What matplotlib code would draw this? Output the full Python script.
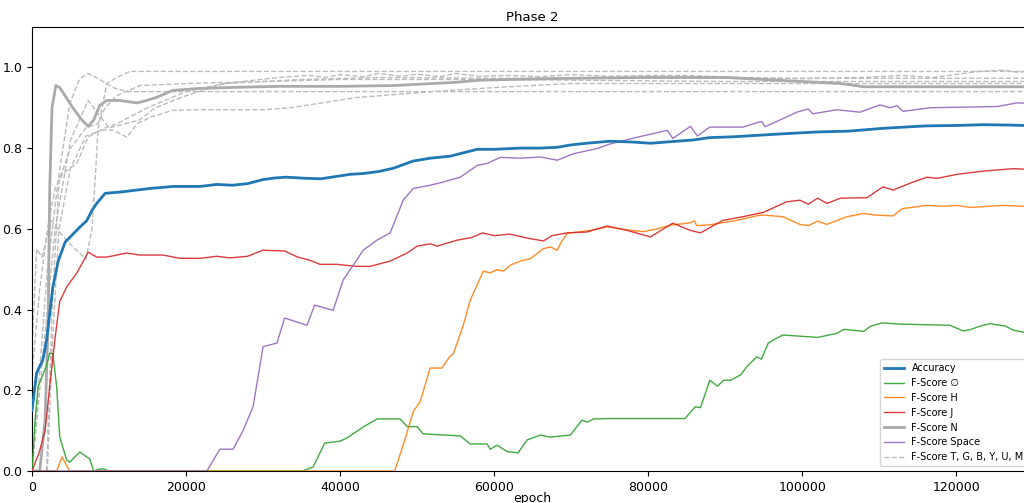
import matplotlib.pyplot as plt

# values (epoch, score)
acc_x = [0, 600, 1400, 1900, 2700, 3400, 4300, 6200, 7100, 7800, 8400, 9500, 11400, 15300, 18300, 21800,
         24000, 26000, 28000, 30000, 31500, 33000, 35700, 37500, 39600, 41300, 43000, 45000, 46900, 49500,
         51700, 54300, 57800, 60000, 63400, 66000, 68200, 70000, 72000, 75000, 78000, 80300, 83000, 85800,
         88000, 91000, 94500, 98000, 102000, 106000, 110500, 116000, 120000, 123500, 127000, 131000]
acc_y = [0.15, 0.243, 0.275, 0.325, 0.455, 0.52, 0.567, 0.604, 0.62, 0.646, 0.663, 0.688, 0.691, 0.70, 0.705, 0.705,
         0.71, 0.708, 0.712, 0.722, 0.726, 0.728, 0.725, 0.724, 0.73, 0.735, 0.737, 0.742, 0.75, 0.768,
         0.775, 0.78, 0.797, 0.797, 0.80, 0.80, 0.802, 0.808, 0.812, 0.817, 0.815, 0.812, 0.816, 0.82,
         0.826, 0.828, 0.832, 0.836, 0.84, 0.842, 0.849, 0.855, 0.856, 0.858, 0.857, 0.855]

null_x = [0, 400, 800, 1300, 1900, 2300, 2700, 3200, 3600, 4500, 4900, 6200, 7100, 7500, 8000, 8800, 9300, 10000,
          35100, 36500, 38000, 40000, 40900, 43000, 44800, 47800, 48700, 50000, 50800, 55600, 56900, 59100,
          59500, 60400, 61700, 63100, 64300, 66000, 67300, 69900, 71400, 72100, 72900, 75000, 84800, 86100,
          86800, 88000, 89000, 89800, 90700, 92000, 92800, 94100, 94700, 95600, 96500, 97500, 102000, 104500,
          105400, 108000, 108900, 110400, 112700, 119200, 120900, 121800, 123100, 124400, 126400, 127400, 131000]
null_y = [0.0, 0.126, 0.21, 0.233, 0.262, 0.292, 0.29, 0.21, 0.085, 0.027, 0.022, 0.047, 0.035, 0.03, 0.0, 0.005, 0.005, 0.0,
          0.0, 0.01, 0.069, 0.074, 0.082, 0.109, 0.129, 0.129, 0.11, 0.11, 0.092, 0.087, 0.067, 0.067,
          0.054, 0.064, 0.048, 0.045, 0.077, 0.089, 0.084, 0.089, 0.126, 0.121, 0.129, 0.13, 0.13, 0.159,
          0.157, 0.225, 0.21, 0.225, 0.225, 0.238, 0.258, 0.283, 0.277, 0.317, 0.327, 0.337, 0.331, 0.341,
          0.351, 0.346, 0.359, 0.367, 0.364, 0.361, 0.347, 0.35, 0.359, 0.365, 0.359, 0.349, 0.335]

h_x = [0, 3200, 3900, 4900, 47100, 48400, 49500, 50400, 51700, 53200, 54300, 54700, 56000, 56900, 58600, 59500,
       60400, 61200, 62100, 63400, 64700, 66400, 67300, 68200, 68800, 69500, 72500, 74700, 77000, 79400, 81200,
       82900, 85500, 86000, 86300, 88000, 91500, 94500, 95000, 97500, 99700, 100800, 102000, 103200, 105800,
       108000, 109500, 111800, 113000, 116200, 118300, 120100, 121800, 126100, 131000]
h_y = [0, 0, 0.035, 0, 0, 0.077, 0.147, 0.172, 0.255, 0.255, 0.285, 0.29, 0.361, 0.423, 0.495, 0.491,
       0.499, 0.495, 0.51, 0.52, 0.526, 0.551, 0.555, 0.547, 0.57, 0.589, 0.596, 0.605, 0.598, 0.593, 0.6,
       0.609, 0.615, 0.62, 0.608, 0.61, 0.621, 0.634, 0.634, 0.63, 0.611, 0.608, 0.619, 0.611, 0.63,
       0.638, 0.634, 0.632, 0.65, 0.658, 0.656, 0.658, 0.653, 0.658, 0.654]

j_x = [0, 400, 900, 1300, 1700, 2300, 3000, 3600, 4500, 5800, 7300, 8400, 9700, 12300, 14000, 17000, 19200,
       21800, 24000, 25700, 28000, 30000, 32800, 34500, 36100, 37400, 39600, 42200, 43900, 46500, 48700, 50000,
       51700, 52600, 55200, 57000, 58500, 60000, 62000, 64300, 66400, 67500, 69500, 72000, 74700, 77300, 80300,
       83200, 85500, 86800, 89700, 92300, 95000, 98000, 99700, 100800, 102000, 103200, 105000, 108400, 110500,
       111800, 114000, 116200, 117500, 120100, 123500, 127400, 131000]
j_y = [0.0, 0.02, 0.044, 0.072, 0.10, 0.21, 0.33, 0.42, 0.456, 0.49, 0.542, 0.53, 0.53, 0.54, 0.535, 0.535, 0.527,
       0.527, 0.532, 0.528, 0.532, 0.547, 0.545, 0.53, 0.522, 0.512, 0.512, 0.507, 0.507, 0.52, 0.54, 0.557,
       0.563, 0.557, 0.572, 0.578, 0.59, 0.583, 0.587, 0.577, 0.57, 0.583, 0.59, 0.592, 0.607, 0.596, 0.58,
       0.614, 0.596, 0.59, 0.621, 0.63, 0.641, 0.667, 0.671, 0.661, 0.676, 0.663, 0.676, 0.677, 0.704,
       0.696, 0.713, 0.728, 0.725, 0.735, 0.743, 0.749, 0.746]

n_x = [0, 1000, 1700, 2100, 2300, 2600, 3100, 3600, 5300, 6500, 7300, 8000, 8800, 9700, 11400, 13600, 14900,
       16200, 18300, 21800, 27400, 32200, 40000, 47000, 52000, 55000, 58000, 62000, 70000, 80000, 90000, 95000,
       100000, 105000, 108000, 131000]
n_y = [0, 0, 0.126, 0.374, 0.70, 0.9, 0.955, 0.95, 0.9, 0.869, 0.854, 0.869, 0.906, 0.918, 0.918, 0.912, 0.918,
       0.926, 0.943, 0.948, 0.951, 0.953, 0.953, 0.955, 0.96, 0.963, 0.968, 0.97, 0.973, 0.975, 0.975, 0.97,
       0.965, 0.96, 0.952, 0.952]

space_x = [0, 22700, 24400, 26100, 27400, 28700, 30000, 31800, 32800, 35700, 36700, 39100, 40400, 41700, 43000,
           44800, 46500, 48200, 49500, 51700, 53400, 55600, 57800, 59100, 60800, 63400, 66000, 68200, 70300, 73400,
           75000, 78600, 82500, 83200, 85500, 86400, 88000, 92300, 94500, 94800, 95200, 97500, 99300, 100800,
           101400, 104500, 107500, 110100, 111400, 112300, 113100, 116600, 125300, 127900, 131000]
space_y = [0.0, 0.0, 0.054, 0.054, 0.10, 0.159, 0.308, 0.317, 0.379, 0.361, 0.411, 0.398, 0.473, 0.51, 0.547,
           0.572, 0.59, 0.671, 0.70, 0.708, 0.716, 0.728, 0.757, 0.762, 0.777, 0.775, 0.778, 0.77, 0.786, 0.799,
           0.81, 0.827, 0.844, 0.824, 0.854, 0.83, 0.852, 0.852, 0.865, 0.865, 0.853, 0.873, 0.889, 0.897,
           0.885, 0.895, 0.889, 0.907, 0.9, 0.905, 0.891, 0.9, 0.903, 0.912, 0.91]

# the six minor classes, all drawn dashed grey
t_x = [0, 600, 1300, 2500, 4500, 7000, 7800, 8600, 9700, 11000, 12700, 131000]
t_y = [0.3, 0.55, 0.53, 0.62, 0.57, 0.525, 0.6, 0.85, 0.96, 0.975, 0.99, 0.99]
g_x = [0, 1000, 2000, 3400, 4900, 6200, 7300, 8800, 10500, 12300, 131000]
g_y = [0.0, 0.25, 0.5, 0.72, 0.91, 0.972, 0.985, 0.97, 0.95, 0.94, 0.94]
b_x = [0, 1000, 2000, 3000, 4000, 5800, 7300, 8800, 10500, 12300, 13700, 15300, 18300, 22000, 30000, 33500,
       37000, 42000, 52000, 60000, 70000, 131000]
b_y = [0.24, 0.45, 0.6, 0.7, 0.737, 0.762, 0.827, 0.844, 0.845, 0.827, 0.861, 0.876, 0.894, 0.895, 0.895, 0.9,
       0.91, 0.925, 0.94, 0.95, 0.96, 0.96]
y_x = [0, 1500, 3000, 5000, 7300, 8800, 10000, 12000, 14000, 16000, 20000, 25000, 35000, 45000, 60000, 131000]
y_y = [0.0, 0.3, 0.6, 0.82, 0.918, 0.88, 0.85, 0.86, 0.87, 0.9, 0.93, 0.96, 0.97, 0.975, 0.973, 0.973]
u_x = [0, 2000, 2600, 3500, 5000, 7000, 8500, 9500, 11000, 15000, 20000, 25000, 32000, 36000, 38000, 40000,
       43000, 45000, 48000, 50000, 53000, 55000, 58000, 62000, 66000, 70000, 75000, 80000, 85000, 92000,
       100000, 108000, 113000, 117000, 121000, 123000, 126000, 128000, 131000]
u_y = [0.0, 0.0, 0.3, 0.6, 0.75, 0.83, 0.84, 0.85, 0.86, 0.9, 0.94, 0.96, 0.975, 0.98, 0.975, 0.982,
       0.977, 0.985, 0.978, 0.983, 0.977, 0.985, 0.978, 0.98, 0.977, 0.982, 0.978, 0.98, 0.98, 0.975,
       0.972, 0.975, 0.98, 0.975, 0.985, 0.99, 0.993, 0.988, 0.993]
m_x = [0, 1900, 2600, 3500, 5000, 7000, 8500, 9500, 11000, 14000, 20000, 30000, 40000, 60000, 90000, 131000]
m_y = [0.0, 0.0, 0.4, 0.72, 0.8, 0.85, 0.86, 0.9, 0.93, 0.955, 0.96, 0.965, 0.97, 0.97, 0.965, 0.965]

plt.rcParams['font.size'] = 9

fig = plt.figure(figsize=(10.24, 5.03), dpi=100)
ax = fig.add_axes([0.03125, 0.0636, 0.977, 0.8827])

dash = '#bbbbbb'
first = True
for xs, ys in [(t_x, t_y), (g_x, g_y), (b_x, b_y), (y_x, y_y), (u_x, u_y), (m_x, m_y)]:
    ax.plot(xs, ys, '--', color=dash, lw=1, label='F-Score T, G, B, Y, U, M' if first else None, zorder=1)
    first = False

ax.plot(acc_x, acc_y, color='#1f77b4', lw=2, label='Accuracy', zorder=5)
ax.plot(null_x, null_y, color='#2ca02c', lw=1, alpha=0.9, label='F-Score \u2205', zorder=3)
ax.plot(h_x, h_y, color='#ff7f0e', lw=1, alpha=0.9, label='F-Score H', zorder=3)
ax.plot(j_x, j_y, color='#d62728', lw=1, alpha=0.9, label='F-Score J', zorder=3)
ax.plot(n_x, n_y, color='#aaaaaa', lw=2, label='F-Score N', zorder=2)
ax.plot(space_x, space_y, color='#9467bd', lw=1, alpha=0.9, label='F-Score Space', zorder=3)

h, l = ax.get_legend_handles_labels()
order = [1, 2, 3, 4, 5, 6, 0]
ax.legend([h[i] for i in order], [l[i] for i in order], loc='lower right', fontsize=7.0)

ax.set_xlim(0, 129900)
ax.set_ylim(0, 1.1)
ax.set_xticks([0, 20000, 40000, 60000, 80000, 100000, 120000])
ax.set_xlabel('epoch', labelpad=-1.5)
ax.set_title('Phase 2', fontsize=9.5, pad=4)

fig.savefig('out.png', dpi=100)
